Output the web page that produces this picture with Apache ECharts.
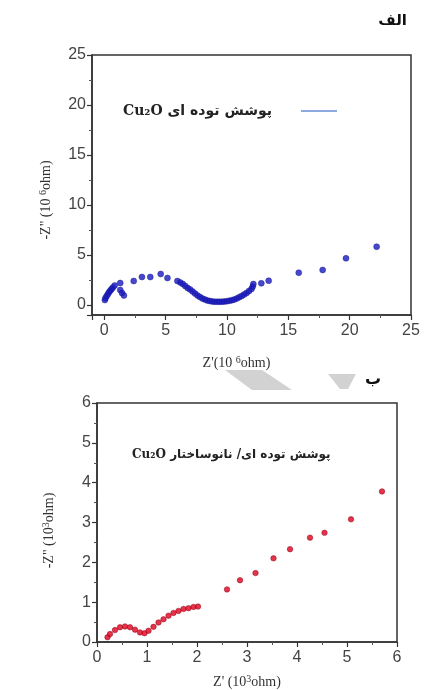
<!DOCTYPE html>
<html><head><meta charset="utf-8">
<script src="https://cdn.jsdelivr.net/npm/echarts@6/dist/echarts.min.js"></script>
<style>html,body{margin:0;padding:0;background:#fff}#c{width:429px;height:690px}</style>
</head><body><div id="c"></div>
<script>
// Top chart (الف): Cu2O bulk coating, Z' and -Z'' in 10^6 ohm
const topX = [0.05,0.1,0.2,0.3,0.4,0.5,0.6,0.7,0.85,1.3,1.3,1.45,1.6,2.4,3.07,3.75,4.6,5.15,
  5.96,6.2,6.4,6.6,6.8,7.0,7.2,7.4,7.6,7.8,8.0,8.2,8.4,8.6,8.8,9.0,9.2,9.4,9.6,9.8,10.0,10.2,10.4,10.6,10.8,11.0,11.2,11.4,11.6,11.8,12.0,12.1,12.15,
  12.8,13.4,15.85,17.8,19.7,22.2];
const topY = [0.5,0.7,0.9,1.1,1.3,1.45,1.6,1.75,1.95,2.2,1.5,1.2,0.95,2.4,2.8,2.8,3.1,2.7,
  2.4,2.25,2.1,1.9,1.7,1.55,1.35,1.15,0.95,0.8,0.65,0.55,0.45,0.4,0.35,0.33,0.32,0.32,0.33,0.35,0.38,0.42,0.48,0.55,0.65,0.78,0.9,1.05,1.2,1.4,1.6,1.85,2.1,
  2.17,2.43,3.23,3.5,4.67,5.83];
// Bottom chart (ب): Cu2O bulk/nanostructure coating, in 10^3 ohm
const botX = [0.21,0.26,0.36,0.46,0.56,0.66,0.76,0.86,0.95,1.03,1.13,1.23,1.33,1.43,1.53,1.63,1.73,1.83,1.93,2.02,
  2.6,2.86,3.17,3.53,3.86,4.26,4.55,5.08,5.7];
const botY = [0.12,0.2,0.3,0.37,0.39,0.37,0.31,0.24,0.22,0.28,0.38,0.49,0.57,0.66,0.73,0.78,0.83,0.85,0.88,0.89,
  1.32,1.55,1.73,2.1,2.33,2.62,2.74,3.08,3.78];
const topXTicks = [0,5,10,15,20,25];
const topYTicks = [0,5,10,15,20,25];
const topName = 'Cu₂O پوشش توده ای';
const botName = 'Cu₂O پوشش توده ای/ نانوساختار';

const pair = (xs, ys) => xs.map((x, i) => [x, ys[i]]);
const chart = echarts.init(document.getElementById('c'));
const labelStyle = {fontFamily: 'Liberation Sans', fontSize: 16, color: '#444'};
const nameRich = {
  n: {fontFamily: 'Liberation Serif', fontSize: 14, color: '#333'},
  s: {fontFamily: 'Liberation Serif', fontSize: 10, color: '#333', verticalAlign: 'top', padding: [0,0,6,0]}
};
const axisLine = {show: true, onZero: false, lineStyle: {color: '#333', width: 1.5}};
const tick = {show: true, inside: false, length: 5, lineStyle: {color: '#333', width: 1.2}};
const minor = {show: true, splitNumber: 2, length: 3, lineStyle: {color: '#555', width: 1}};
const fmtTop = v => (topXTicks.indexOf(v) >= 0 ? String(v) : '');
const legendText = {fontFamily: 'DejaVu Serif, DejaVu Sans', fontWeight: 'bold', color: '#222'};

chart.setOption({
  animation: false,
  backgroundColor: '#fff',
  grid: [
    {left: 92, top: 55, width: 319, height: 260, show: true, borderColor: '#333', borderWidth: 1.5, backgroundColor: 'transparent'},
    {left: 97, top: 403, width: 300, height: 240, show: true, borderColor: '#333', borderWidth: 1.5, backgroundColor: 'transparent'}
  ],
  xAxis: [
    {gridIndex: 0, type: 'value', min: -1, max: 25, splitNumber: 5, splitLine: {show: false},
     axisLine, axisTick: tick, minorTick: minor,
     axisLabel: Object.assign({margin: 8, formatter: fmtTop}, labelStyle),
     name: "{n|Z'(10 }{s|6}{n|ohm)}", nameLocation: 'middle', nameGap: 40,
     nameTextStyle: {rich: nameRich, padding: [0, 30, 0, 0]}},
    {gridIndex: 1, type: 'value', min: 0, max: 6, interval: 1, splitLine: {show: false},
     axisLine, axisTick: tick, minorTick: minor,
     axisLabel: Object.assign({margin: 8}, labelStyle),
     name: "{n|Z' (10}{s|3}{n|ohm)}", nameLocation: 'middle', nameGap: 32,
     nameTextStyle: {rich: nameRich}}
  ],
  yAxis: [
    {gridIndex: 0, type: 'value', min: -1, max: 25, splitNumber: 5, splitLine: {show: false},
     axisLine, axisTick: tick, minorTick: minor,
     axisLabel: Object.assign({margin: 6, formatter: v => (topYTicks.indexOf(v) >= 0 ? String(v) : '')}, labelStyle),
     name: '{n|-Z" (10 }{s|6}{n|ohm)}', nameLocation: 'middle', nameGap: 38, nameRotate: 90,
     nameTextStyle: {rich: nameRich, padding: [0, 30, 0, 0]}},
    {gridIndex: 1, type: 'value', min: 0, max: 6, interval: 1, splitLine: {show: false},
     axisLine, axisTick: tick, minorTick: minor,
     axisLabel: Object.assign({margin: 6}, labelStyle),
     name: '{n|-Z" (10}{s|3}{n|ohm)}', nameLocation: 'middle', nameGap: 40, nameRotate: 90,
     nameTextStyle: {rich: nameRich, padding: [0, 16, 0, 0]}}
  ],
  legend: [
    {data: [topName], left: 118, top: 99, align: 'right', icon: 'rect', itemWidth: 36, itemHeight: 2, itemGap: 10,
     itemStyle: {color: '#6f95d8', borderWidth: 0},
     textStyle: Object.assign({fontSize: 14, padding: [0, 24, 0, 0]}, legendText)},
    {data: [botName], left: 122, top: 444, icon: 'none', itemWidth: 0, itemHeight: 0,
     textStyle: Object.assign({fontSize: 12}, legendText)}
  ],
  graphic: [
    {type: 'text', right: 22, top: 14, style: {text: 'الف', font: 'bold 15px "DejaVu Sans"', fill: '#111'}},
    {type: 'text', right: 48, top: 372, style: {text: 'ب', font: 'bold 16px "DejaVu Sans"', fill: '#111'}},
    {type: 'polygon', shape: {points: [[225,370],[262,370],[292,390],[252,390]]}, style: {fill: '#d2d2d2'}, z: -1},
    {type: 'polygon', shape: {points: [[328,374],[356,374],[348,389],[340,389]]}, style: {fill: '#d2d2d2'}, z: -1}
  ],
  series: [
    {name: topName, type: 'scatter', xAxisIndex: 0, yAxisIndex: 0, data: pair(topX, topY), symbolSize: 6,
     itemStyle: {color: '#1a1ac0', borderColor: '#10108a', borderWidth: 0.5}},
    {name: botName, type: 'scatter', xAxisIndex: 1, yAxisIndex: 1, data: pair(botX, botY), symbolSize: 5.5,
     itemStyle: {color: '#e0001c', borderColor: '#8a0018', borderWidth: 0.6}}
  ]
});
</script></body></html>
